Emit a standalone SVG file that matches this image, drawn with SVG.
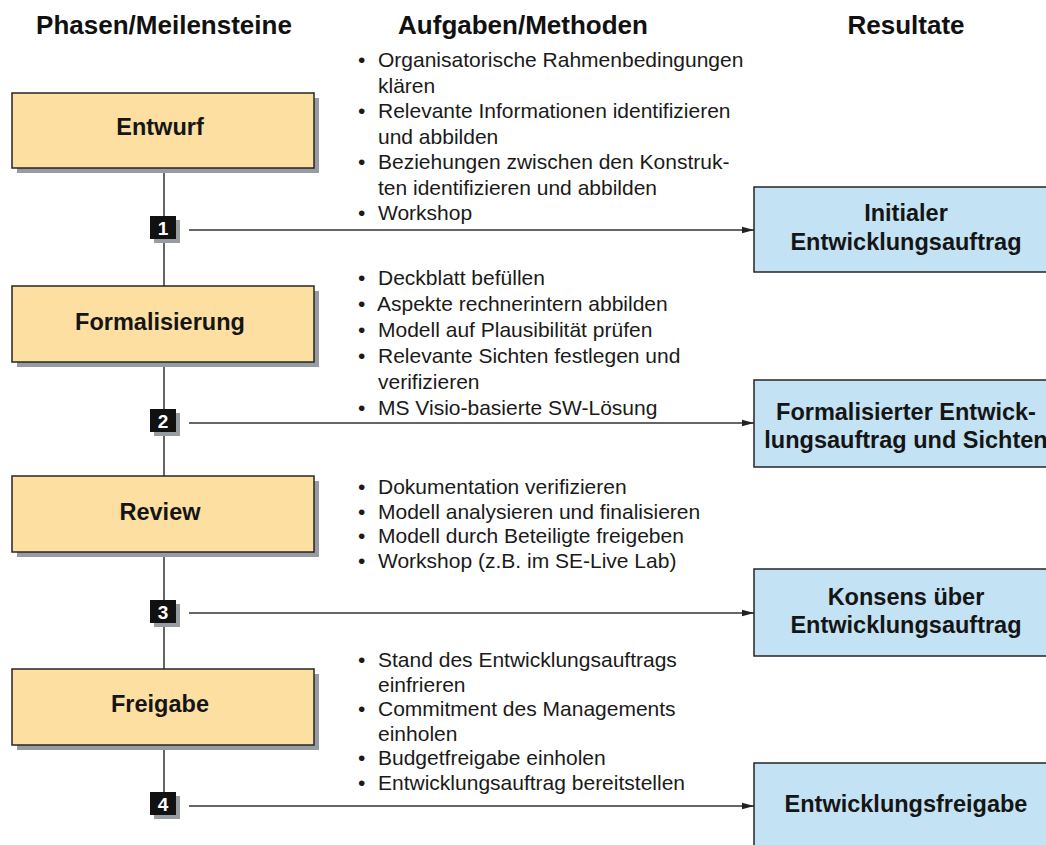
<svg xmlns="http://www.w3.org/2000/svg" width="1046" height="845" viewBox="0 0 1046 845">
<style>
.hdr{font-family:"Liberation Sans",Arial,sans-serif;font-weight:bold;font-size:26px;fill:#111;text-anchor:middle}
.lbl{font-family:"Liberation Sans",Arial,sans-serif;font-weight:bold;font-size:23.5px;fill:#151515;text-anchor:middle}
.txt{font-family:"Liberation Sans",Arial,sans-serif;font-size:21px;fill:#1a1a1a}
.num{font-family:"Liberation Sans",Arial,sans-serif;font-weight:bold;font-size:19px;fill:#fff;text-anchor:middle}
.phase{fill:#fddfa2;stroke:#262626;stroke-width:1.5}
.shadow{fill:#979ba2}
.res{fill:#c3e2f3;stroke:#262626;stroke-width:1.5}
.sq{fill:#111}
.conn{stroke:#333;stroke-width:1.5;fill:none}
</style>
<defs>
<marker id="arr" markerWidth="12" markerHeight="8" refX="12" refY="4" orient="auto" markerUnits="userSpaceOnUse">
<path d="M0,0.8 L12,4 L0,7.2 Z" fill="#222"/>
</marker>
</defs>
<g id="headers">
<text class="hdr" x="164" y="34">Phasen/Meilensteine</text>
<text class="hdr" x="523" y="34">Aufgaben/Methoden</text>
<text class="hdr" x="906" y="34">Resultate</text>
</g>
<g id="connectors">
<line class="conn" x1="164" y1="168" x2="164" y2="800"/>
<line class="conn" x1="189" y1="230" x2="754" y2="230" marker-end="url(#arr)"/>
<line class="conn" x1="189" y1="423" x2="754" y2="423" marker-end="url(#arr)"/>
<line class="conn" x1="189" y1="613" x2="754" y2="613" marker-end="url(#arr)"/>
<line class="conn" x1="189" y1="806" x2="754" y2="806" marker-end="url(#arr)"/>
</g>
<g id="phase-entwurf">
<rect class="shadow" x="17" y="98" width="302" height="75"/>
<rect class="phase" x="12" y="93" width="302" height="75"/>
<text class="lbl" x="160" y="135">Entwurf</text>
</g>
<g id="phase-formalisierung">
<rect class="shadow" x="17" y="291" width="302" height="76"/>
<rect class="phase" x="12" y="286" width="302" height="76"/>
<text class="lbl" x="160" y="330">Formalisierung</text>
</g>
<g id="phase-review">
<rect class="shadow" x="17" y="481" width="302" height="76"/>
<rect class="phase" x="12" y="476" width="302" height="76"/>
<text class="lbl" x="160" y="520">Review</text>
</g>
<g id="phase-freigabe">
<rect class="shadow" x="17" y="674" width="302" height="76"/>
<rect class="phase" x="12" y="669" width="302" height="76"/>
<text class="lbl" x="160" y="712">Freigabe</text>
</g>
<g id="milestone-1">
<rect class="shadow" x="154" y="220" width="26" height="23"/>
<rect class="sq" x="150" y="216" width="26" height="23"/>
<text class="num" x="163" y="234.5">1</text>
</g>
<g id="milestone-2">
<rect class="shadow" x="154" y="413" width="26" height="23"/>
<rect class="sq" x="150" y="409" width="26" height="23"/>
<text class="num" x="163" y="427.5">2</text>
</g>
<g id="milestone-3">
<rect class="shadow" x="154" y="604" width="26" height="23"/>
<rect class="sq" x="150" y="600" width="26" height="23"/>
<text class="num" x="163" y="618.5">3</text>
</g>
<g id="milestone-4">
<rect class="shadow" x="154" y="796" width="26" height="23"/>
<rect class="sq" x="150" y="792" width="26" height="23"/>
<text class="num" x="163" y="810.5">4</text>
</g>
<g id="tasks-1" class="txt">
<text x="358" y="67">•</text><text x="378" y="67">Organisatorische Rahmenbedingungen</text>
<text x="378" y="92.5">klären</text>
<text x="358" y="118">•</text><text x="378" y="118">Relevante Informationen identifizieren</text>
<text x="378" y="143.5">und abbilden</text>
<text x="358" y="169">•</text><text x="378" y="169">Beziehungen zwischen den Konstruk-</text>
<text x="378" y="194.5">ten identifizieren und abbilden</text>
<text x="358" y="220">•</text><text x="378" y="220">Workshop</text>
</g>
<g id="tasks-2" class="txt">
<text x="358" y="285">•</text><text x="378" y="285">Deckblatt befüllen</text>
<text x="358" y="311">•</text><text x="377" y="311">Aspekte rechnerintern abbilden</text>
<text x="358" y="337">•</text><text x="378" y="337">Modell auf Plausibilität prüfen</text>
<text x="358" y="363">•</text><text x="378" y="363">Relevante Sichten festlegen und</text>
<text x="378" y="389">verifizieren</text>
<text x="358" y="415">•</text><text x="378" y="415">MS Visio-basierte SW-Lösung</text>
</g>
<g id="tasks-3" class="txt">
<text x="358" y="494">•</text><text x="378" y="494">Dokumentation verifizieren</text>
<text x="358" y="518.5">•</text><text x="378" y="518.5">Modell analysieren und finalisieren</text>
<text x="358" y="543">•</text><text x="378" y="543">Modell durch Beteiligte freigeben</text>
<text x="358" y="567.5">•</text><text x="378" y="567.5">Workshop (z.B. im SE-Live Lab)</text>
</g>
<g id="tasks-4" class="txt">
<text x="358" y="667">•</text><text x="378" y="667">Stand des Entwicklungsauftrags</text>
<text x="378" y="691.5">einfrieren</text>
<text x="358" y="716">•</text><text x="378" y="716">Commitment des Managements</text>
<text x="378" y="740.5">einholen</text>
<text x="358" y="765">•</text><text x="378" y="765">Budgetfreigabe einholen</text>
<text x="358" y="789.5">•</text><text x="378" y="789.5">Entwicklungsauftrag bereitstellen</text>
</g>
<g id="result-1">
<rect class="res" x="754" y="187" width="304" height="85"/>
<text class="lbl" x="906" y="221">Initialer</text>
<text class="lbl" x="906" y="250">Entwicklungsauftrag</text>
</g>
<g id="result-2">
<rect class="res" x="754" y="380" width="304" height="87"/>
<text class="lbl" x="906" y="420">Formalisierter Entwick-</text>
<text class="lbl" x="906" y="448">lungsauftrag und Sichten</text>
</g>
<g id="result-3">
<rect class="res" x="754" y="569" width="304" height="87"/>
<text class="lbl" x="906" y="605">Konsens über</text>
<text class="lbl" x="906" y="633">Entwicklungsauftrag</text>
</g>
<g id="result-4">
<rect class="res" x="754" y="763" width="304" height="87"/>
<text class="lbl" x="906" y="812">Entwicklungsfreigabe</text>
</g>
</svg>
